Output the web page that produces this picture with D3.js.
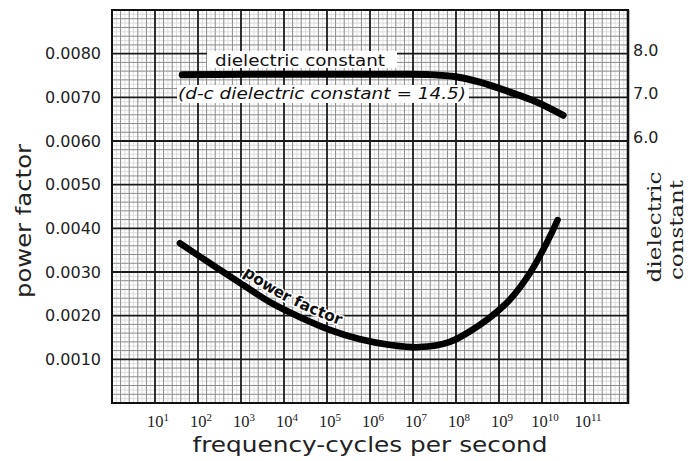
<!DOCTYPE html>
<html><head><meta charset="utf-8">
<script src="https://cdn.jsdelivr.net/npm/d3@7"></script>
<style>
html,body{margin:0;padding:0;background:#fff;}
svg{display:block;}
</style></head>
<body>
<svg id="chart" width="690" height="461"></svg>
<script>
// ---- data ----
const decadeExps = [1,2,3,4,5,6,7,8,9,10,11];
const pfTicks = [0.001,0.002,0.003,0.004,0.005,0.006,0.007,0.008];
const dcTicks = [6,7,8];
const pfFreq  = [38,190,955,4.7e3,2.3e4,1.2e5,5.9e5,3.0e6,1.4e7,7.2e7,2.1e8,6.2e8,1.8e9,5.2e9,1.05e10,1.8e10,2.3e10];
const pfValue = [0.00366,0.00320,0.00275,0.00231,0.00197,0.00167,0.00146,0.00133,0.00128,0.00140,0.00164,0.00196,0.00237,0.00297,0.00350,0.00396,0.00419];
const dcFreq  = [43,2.3e4,5.0e6,2.5e7,1.0e8,3.6e8,1.8e9,7.6e9,3.1e10];
const dcValue = [7.52,7.53,7.53,7.52,7.47,7.35,7.12,6.89,6.59];

const svg = d3.select("#chart");
const L=112, R=628, T=10, B=403;
const x = d3.scaleLog().domain([1,1e12]).range([L,R]);
const y = d3.scaleLinear().domain([0,0.009]).range([B,T]);
const yDc = d3.scaleLinear().domain([0,9]).range([B,T]);

// ---- grid ----
const g = svg.append("g");
const fineX = d3.range(0,121).map(i=>i/10);
const fineY = d3.range(0,91).map(i=>i*0.0001);
function vlines(exps, color, w){
  g.selectAll(null).data(exps).enter().append("line")
   .attr("x1",d=>x(Math.pow(10,d))).attr("x2",d=>x(Math.pow(10,d)))
   .attr("y1",T).attr("y2",B).attr("stroke",color).attr("stroke-width",w);
}
function hlines(vals, color, w){
  g.selectAll(null).data(vals).enter().append("line")
   .attr("y1",d=>y(d)).attr("y2",d=>y(d))
   .attr("x1",L).attr("x2",R).attr("stroke",color).attr("stroke-width",w);
}
vlines(fineX.filter((d,i)=>i%2===1),"#d6d6d6",0.8);
hlines(fineY.filter((d,i)=>i%2===1),"#d6d6d6",0.8);
vlines(fineX.filter((d,i)=>i%2===0 && i%10!==0),"#8a8a8a",1);
hlines(fineY.filter((d,i)=>i%2===0 && i%10!==0),"#8a8a8a",1);
vlines(d3.range(0,13),"#1a1a1a",1.8);
hlines(d3.range(0,10).map(i=>i*0.001),"#1a1a1a",1.8);
// frame
g.append("rect").attr("x",L).attr("y",T).attr("width",R-L).attr("height",B-T)
 .attr("fill","none").attr("stroke","#111").attr("stroke-width",2);
g.append("line").attr("x1",R).attr("x2",R).attr("y1",T).attr("y2",B+1).attr("stroke","#111").attr("stroke-width",2.6);

// ---- axes labels ----
const axL = svg.append("g").attr("transform",`translate(${L},0)`)
  .call(d3.axisLeft(y).tickValues(pfTicks).tickFormat(d3.format(".4f")).tickSize(0).tickPadding(11));
axL.select(".domain").remove();
axL.selectAll("text").attr("font-family","DejaVu Sans").attr("font-size",16).attr("fill","#222");

const axR = svg.append("g").attr("transform",`translate(${R},0)`)
  .call(d3.axisRight(yDc).tickValues(dcTicks).tickFormat(d3.format(".1f")).tickSize(0).tickPadding(5));
axR.select(".domain").remove();
axR.selectAll("text").attr("font-family","DejaVu Sans").attr("font-size",16).attr("fill","#222").attr("dy","0.1em");

const bt = svg.append("g").selectAll("text").data(decadeExps).enter().append("text")
  .attr("x",d=>x(Math.pow(10,d))+3).attr("y",427)
  .attr("text-anchor","middle").attr("font-family","Liberation Serif").attr("font-size",16.5).attr("fill","#222");
bt.append("tspan").text("10");
bt.append("tspan").attr("dy",-6).attr("font-size",11).text(d=>d);

svg.append("text").attr("transform","translate(31,221) rotate(-90)")
  .attr("text-anchor","middle").attr("font-family","DejaVu Sans").attr("font-size",21)
  .attr("textLength",154).attr("lengthAdjust","spacingAndGlyphs").attr("fill","#222").text("power factor");
svg.append("text").attr("transform","translate(661,227) rotate(-90)")
  .attr("text-anchor","middle").attr("font-family","DejaVu Serif").attr("font-size",19)
  .attr("textLength",111).attr("lengthAdjust","spacingAndGlyphs").attr("fill","#222").text("dielectric");
svg.append("text").attr("transform","translate(683,230) rotate(-90)")
  .attr("text-anchor","middle").attr("font-family","DejaVu Serif").attr("font-size",19)
  .attr("textLength",100).attr("lengthAdjust","spacingAndGlyphs").attr("fill","#222").text("constant");
svg.append("text").attr("x",370).attr("y",452)
  .attr("text-anchor","middle").attr("font-family","DejaVu Sans").attr("font-size",21)
  .attr("textLength",355).attr("lengthAdjust","spacingAndGlyphs").attr("fill","#222").text("frequency-cycles per second");

// ---- annotation boxes ----
svg.append("rect").attr("x",207).attr("y",51).attr("width",190).attr("height",17).attr("fill","#fff");
svg.append("text").attr("x",300).attr("y",66).attr("text-anchor","middle")
  .attr("font-family","DejaVu Sans").attr("font-size",16).attr("textLength",170)
  .attr("lengthAdjust","spacingAndGlyphs").attr("fill","#111").text("dielectric constant");
svg.append("rect").attr("x",177).attr("y",85).attr("width",292).attr("height",18).attr("fill","#fff");
svg.append("text").attr("x",322).attr("y",99).attr("text-anchor","middle")
  .attr("font-family","DejaVu Sans").attr("font-style","italic").attr("font-size",16).attr("textLength",288)
  .attr("lengthAdjust","spacingAndGlyphs").attr("fill","#111").text("(d-c dielectric constant = 14.5)");

// ---- curves ----
const pfData = pfFreq.map((f,i)=>[f,pfValue[i]]);
const dcData = dcFreq.map((f,i)=>[f,dcValue[i]]);
const linePf = d3.line().x(d=>x(d[0])).y(d=>y(d[1])).curve(d3.curveCatmullRom.alpha(0.5));
const lineDc = d3.line().x(d=>x(d[0])).y(d=>yDc(d[1])).curve(d3.curveCatmullRom.alpha(0.5));
svg.append("path").attr("d",lineDc(dcData)).attr("fill","none").attr("stroke","#000")
  .attr("stroke-width",7).attr("stroke-linecap","round");
const pfPath = svg.append("path").attr("id","pfcurve").attr("d",linePf(pfData)).attr("fill","none").attr("stroke","#000")
  .attr("stroke-width",6.5).attr("stroke-linecap","round");

// label along power factor curve
const node = pfPath.node();
const total = node.getTotalLength();
let lo=0, hi=total;
for(let k=0;k<30;k++){ const m=(lo+hi)/2; if(node.getPointAtLength(m).x<238) lo=m; else hi=m; }
svg.append("text").attr("font-family","DejaVu Sans").attr("font-weight","bold").attr("font-size",15.5)
  .attr("fill","#111").attr("stroke","#fff").attr("stroke-width",3).attr("paint-order","stroke")
  .append("textPath").attr("href","#pfcurve").attr("startOffset",lo)
  .append("tspan").attr("dy",-8).text("power factor");
</script>
</body></html>
